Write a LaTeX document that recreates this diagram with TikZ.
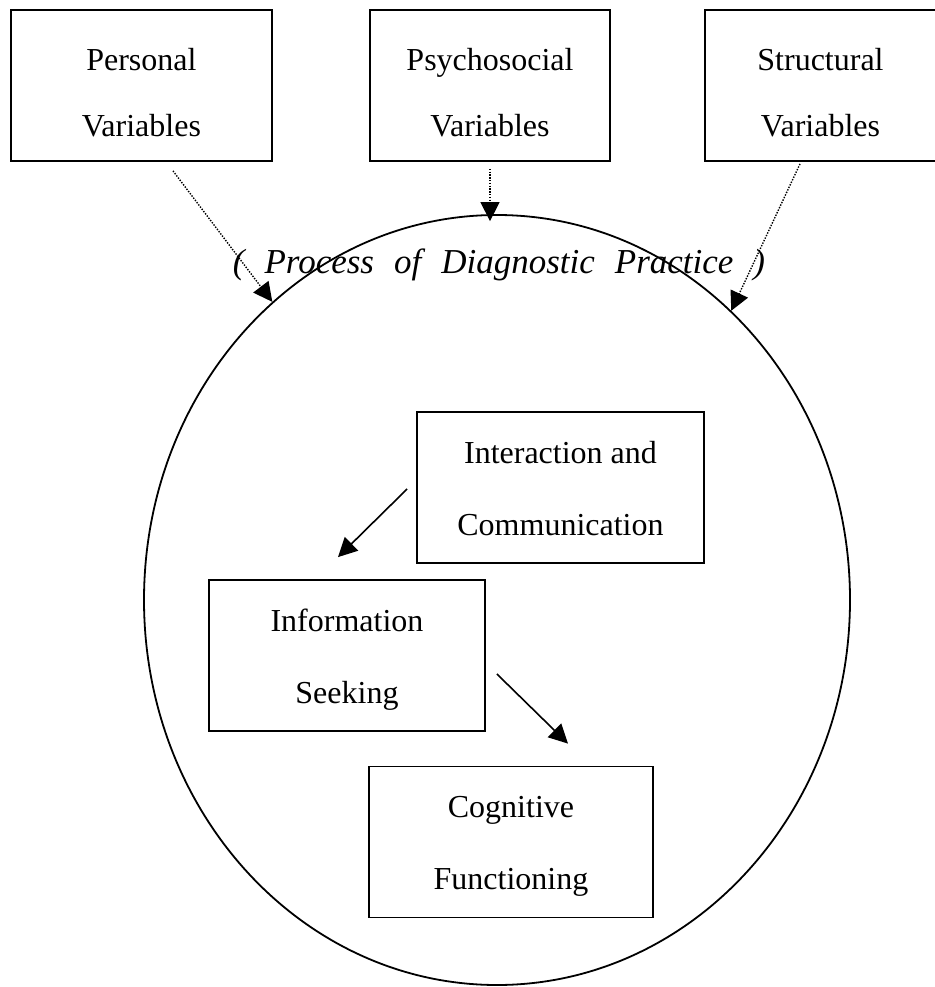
\documentclass[tikz,border=0pt]{standalone}
\usepackage{fontspec}
\setmainfont{Liberation Serif}
\usetikzlibrary{arrows.meta,shapes.geometric}
\begin{document}
\begin{tikzpicture}[x=1pt,y=-1pt,
  vbox/.style={draw,line width=1.8pt,inner sep=0pt,align=center,
    font=\fontsize{32}{72}\selectfont,text height=95pt,text depth=0pt},
  topbox/.style={vbox,font=\fontsize{32}{66}\selectfont,text height=103pt},
  dotarrow/.style={line width=1.4pt,dash pattern=on 1.4pt off 1.4pt,
    -{Triangle[length=19pt,width=19pt]}},
  solidarrow/.style={line width=1.6pt,-{Triangle[length=19pt,width=19pt]}},
  ring/.style={draw,ellipse,line width=1.8pt,inner sep=0pt},
  caption/.style={font=\fontsize{35}{40}\selectfont\itshape,anchor=base,inner sep=0pt}]
\useasboundingbox (0,0) rectangle (934,987);

\node[topbox,minimum width=261pt,minimum height=151pt] (pers) at (141.4,85.5) {Personal\\Variables};
\node[topbox,minimum width=240pt,minimum height=151pt] (psy) at (490,85.5) {Psychosocial\\Variables};
\node[topbox,minimum width=231pt,minimum height=151pt] (str) at (820.5,85.5) {Structural\\Variables};

\node[ring,minimum width=706pt,minimum height=770pt] (proc) at (497,600) {};
\node[caption] (cap) at (499,273) {\spaceskip=20pt plus 0pt ( Process of Diagnostic Practice )};

\node[vbox,minimum width=287pt,minimum height=151pt] (inter) at (560.5,487.5) {Interaction and\\Communication};
\node[vbox,minimum width=276pt,minimum height=151pt] (info) at (347,655.5) {Information\\Seeking};
\node[vbox,minimum width=284pt,minimum height=151pt] (cog) at (511,842) {Cognitive\\Functioning};

\draw[dotarrow] ([xshift=31.6pt,yshift=-9pt]pers.south) -- (proc.127.4);
\draw[dotarrow] ([yshift=-7pt]psy.south) -- ([yshift=-7pt]psy.south |- proc.north);
\draw[dotarrow] ([xshift=-20.5pt,yshift=-2pt]str.south) -- (proc.51.3);

\draw[solidarrow] ([xshift=-9pt,yshift=-1.5pt]inter.west) -- ([xshift=-9pt,yshift=22pt]info.north);
\draw[solidarrow] ([xshift=11pt,yshift=-18.5pt]info.east) -- ([xshift=57pt,yshift=22pt]cog.north);
\end{tikzpicture}
\end{document}
